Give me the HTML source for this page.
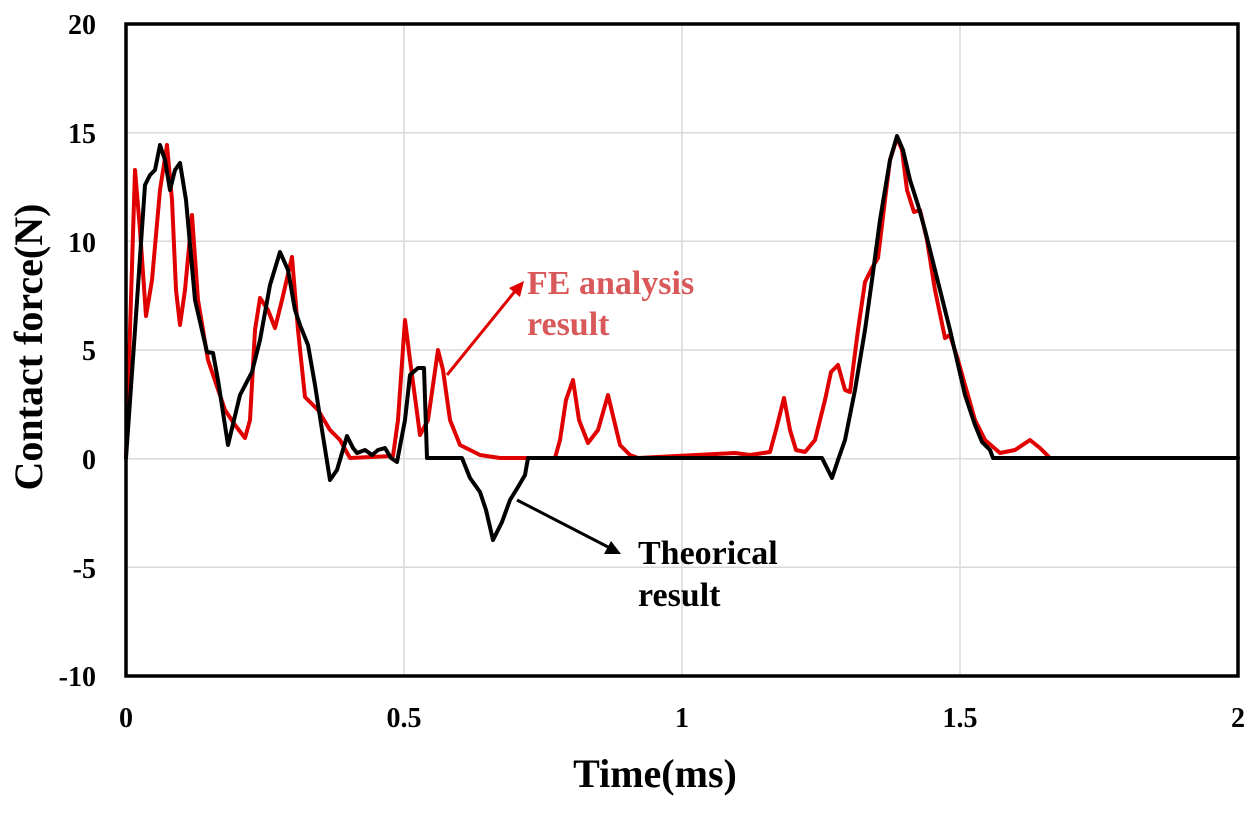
<!DOCTYPE html>
<html><head><meta charset="utf-8"><style>
body{margin:0;background:#fff;}
svg{display:block;}
text{font-family:"Liberation Serif",serif;font-weight:bold;}
</style></head><body>
<svg width="1260" height="816" viewBox="0 0 1260 816" xmlns="http://www.w3.org/2000/svg">
<rect width="1260" height="816" fill="#fff"/>
<g stroke="#d9d9d9" stroke-width="1.5">
<line x1="126" y1="132.7" x2="1238" y2="132.7"/>
<line x1="126" y1="241.3" x2="1238" y2="241.3"/>
<line x1="126" y1="350" x2="1238" y2="350"/>
<line x1="126" y1="458.7" x2="1238" y2="458.7"/>
<line x1="126" y1="567.3" x2="1238" y2="567.3"/>
<line x1="404" y1="24" x2="404" y2="676"/>
<line x1="682" y1="24" x2="682" y2="676"/>
<line x1="960" y1="24" x2="960" y2="676"/>
</g>
<g fill="none" stroke-linejoin="round" stroke-linecap="round">
<polyline stroke="#e00000" stroke-width="4" points="126,458 130,330 135,170 140,230 146,316 152,280 160,190 167,145 172,200 176,290 180,325 185,290 192,215 198,300 208,360 225,410 235,425 245,438 250,420 255,330 260,298 268,310 275,328 282,300 292,257 298,330 305,397 318,410 330,430 340,440 350,458 393,456 398,420 405,320 410,360 420,435 428,420 438,350 443,370 450,420 460,445 480,455 500,458 555,458 560,440 566,400 573,380 579,420 588,443 598,430 608,395 614,420 620,445 630,455 638,458 735,453 750,455 770,452 776,430 784,398 790,430 796,450 805,452 815,440 825,400 831,372 838,365 845,390 850,392 858,330 865,282 872,268 878,258 885,200 890,160 897,138 902,150 907,190 914,212 920,210 927,240 935,290 945,338 950,335 958,360 965,385 975,420 985,440 1000,453 1015,450 1030,440 1040,448 1050,458 1238,458"/>
<polyline stroke="#000" stroke-width="4" points="126,458 135,330 145,185 150,175 155,170 160,145 165,160 170,190 175,170 180,163 186,200 195,300 207,352 213,353 218,380 228,445 234,420 240,395 252,372 260,340 270,285 280,252 288,270 295,310 300,325 308,345 315,385 322,430 330,480 337,470 347,436 353,448 357,453 365,450 372,455 378,450 385,448 391,458 397,462 405,420 410,375 418,368 424,368 427,458 462,458 470,478 480,492 486,510 493,540 502,522 510,500 518,487 525,475 528,458 822,458 827,468 832,478 838,460 845,440 855,390 865,330 872,280 880,220 890,160 897,136 903,150 910,180 918,205 925,230 935,270 950,330 965,395 975,425 982,442 990,450 993,458 1238,458"/>
</g>
<rect x="126" y="24" width="1112" height="652" fill="none" stroke="#000" stroke-width="3.5"/>
<line x1="447" y1="375" x2="516" y2="290" stroke="#e00000" stroke-width="3"/>
<polygon points="524,281 520,297 509,288" fill="#e00000"/>
<line x1="517" y1="500" x2="610" y2="548" stroke="#000" stroke-width="3"/>
<polygon points="621,554 604,554 611,541" fill="#000"/>
<g font-size="28" text-anchor="end">
<text x="96" y="34">20</text>
<text x="96" y="143">15</text>
<text x="96" y="252">10</text>
<text x="96" y="360">5</text>
<text x="96" y="469">0</text>
<text x="96" y="578">-5</text>
<text x="96" y="686">-10</text>
</g>
<g font-size="28" text-anchor="middle">
<text x="126" y="727">0</text>
<text x="404" y="727">0.5</text>
<text x="682" y="727">1</text>
<text x="960" y="727">1.5</text>
<text x="1238" y="727">2</text>
</g>
<text x="655" y="787" font-size="40" text-anchor="middle">Time(ms)</text>
<text transform="translate(42,347) rotate(-90)" font-size="40" text-anchor="middle">Contact force(N)</text>
<g font-size="34" fill="#d9585a">
<text x="527" y="294">FE analysis</text>
<text x="527" y="335">result</text>
</g>
<g font-size="34" fill="#000">
<text x="638" y="564">Theorical</text>
<text x="638" y="606">result</text>
</g>
</svg>
</body></html>
